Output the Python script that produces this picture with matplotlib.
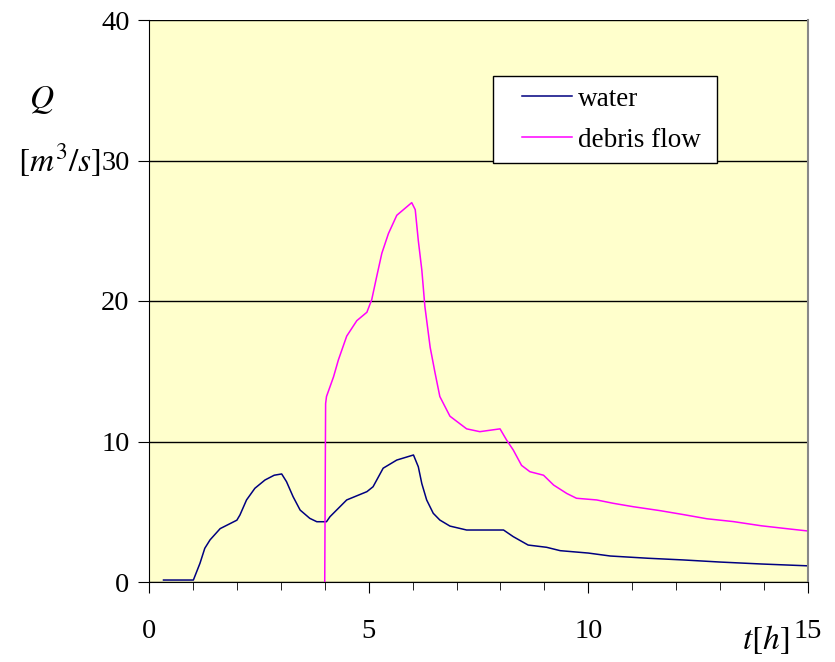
import numpy as np
import matplotlib.pyplot as plt
from matplotlib.legend_handler import HandlerLine2D

plt.rcParams['font.family'] = ['Liberation Serif', 'DejaVu Serif']
plt.rcParams['mathtext.fontset'] = 'stix'

# water hydrograph
t_water = [0.33, 1.01, 1.16, 1.27, 1.39, 1.62, 2.0, 2.07, 2.22, 2.41, 2.64, 2.85, 3.02,
           3.13, 3.28, 3.44, 3.66, 3.82, 4.04, 4.12, 4.5, 4.96, 5.1, 5.33, 5.64, 6.02,
           6.13, 6.21, 6.32, 6.47, 6.62, 6.85, 7.23, 8.07, 8.29, 8.63, 9.05, 9.36, 10.0,
           10.5, 11.36, 12.16, 13.0, 13.95, 15.0]
q_water = [0.14, 0.14, 1.33, 2.4, 3.0, 3.8, 4.4, 4.77, 5.84, 6.67, 7.26, 7.6, 7.69,
           7.14, 6.07, 5.12, 4.53, 4.29, 4.29, 4.65, 5.84, 6.43, 6.78, 8.1, 8.68, 9.04,
           8.2, 7.0, 5.84, 4.89, 4.41, 3.98, 3.7, 3.7, 3.23, 2.63, 2.47, 2.23, 2.06,
           1.85, 1.69, 1.57, 1.42, 1.28, 1.15]

# debris flow hydrograph
t_debris = [4.0, 4.02, 4.04, 4.2, 4.31, 4.5, 4.73, 4.96, 5.07, 5.18, 5.3, 5.45, 5.64,
            5.98, 6.06, 6.13, 6.21, 6.28, 6.4, 6.51, 6.62, 6.85, 7.23, 7.53, 7.99, 8.14,
            8.29, 8.48, 8.67, 8.98, 9.21, 9.51, 9.73, 10.19, 10.57, 11.02, 11.63, 12.16,
            12.7, 13.3, 13.94, 14.59, 15.0]
q_debris = [0.0, 12.7, 13.2, 14.6, 15.8, 17.5, 18.6, 19.2, 20.1, 21.7, 23.4, 24.8, 26.1,
            27.0, 26.5, 24.3, 22.2, 19.6, 16.7, 14.9, 13.2, 11.8, 10.9, 10.7, 10.9, 10.1,
            9.4, 8.3, 7.85, 7.6, 6.9, 6.3, 5.96, 5.84, 5.6, 5.36, 5.08, 4.8,
            4.5, 4.3, 4.0, 3.77, 3.63]

fig = plt.figure(figsize=(8.35, 6.62), dpi=100)
ax = fig.add_axes([149/835, 1-582/662, (808-149)/835, (582-20)/662])
ax.set_facecolor('#FFFFCC')

ax.plot(t_water, q_water, color='#000080', lw=1.1, label='water')
ax.plot(t_debris, q_debris, color='#FF00FF', lw=1.1, label='debris flow')

ax.set_xlim(0, 15)
ax.set_ylim(0, 40)
ax.set_xticks([0, 5, 10, 15])
ax.set_xticks(np.arange(0, 16, 1), minor=True)
ax.set_yticks([0, 10, 20, 30, 40])
ax.yaxis.grid(True, color='black', lw=1)
ax.set_axisbelow(True)

ax.tick_params(axis='both', which='both', direction='out', labelsize=20.5, color='black')
ax.tick_params(axis='x', which='major', length=8, pad=19)
ax.tick_params(axis='x', which='minor', length=6)
ax.tick_params(axis='y', which='major', length=8, pad=6)

ax.spines['right'].set_color('#888888')
ax.spines['right'].set_linewidth(1.5)
ax.spines['top'].set_visible(False)
for s in ['left', 'bottom']:
    ax.spines[s].set_color('black')

fig.text(42/835, 1-100/662, r'$Q$', fontsize=24, ha='center', va='center')
fig.text(18/835, 1-160/662, r'$[m^3/s]$', fontsize=24, ha='left', va='center')
fig.text(766/835, 1-640/662, r'$t[h]$', fontsize=24, ha='center', va='center')

# legend box: x 493..717, y 76..163 px
lx0, lx1, ly0, ly1 = 493, 717, 76, 163
leg = ax.legend(loc='upper left',
                bbox_to_anchor=((lx0-149)/659, 1-(ly1-20)/562, (lx1-lx0)/659, (ly1-ly0)/562),
                mode='expand', fontsize=19.5, frameon=True, fancybox=False, framealpha=1,
                edgecolor='black', handlelength=2.5, handletextpad=0.25,
                borderpad=0.4, labelspacing=0.58, borderaxespad=0,
                handler_map={plt.Line2D: HandlerLine2D(xpad=0.67)})
leg.get_frame().set_linewidth(1)

fig.savefig('out.png', dpi=100)
